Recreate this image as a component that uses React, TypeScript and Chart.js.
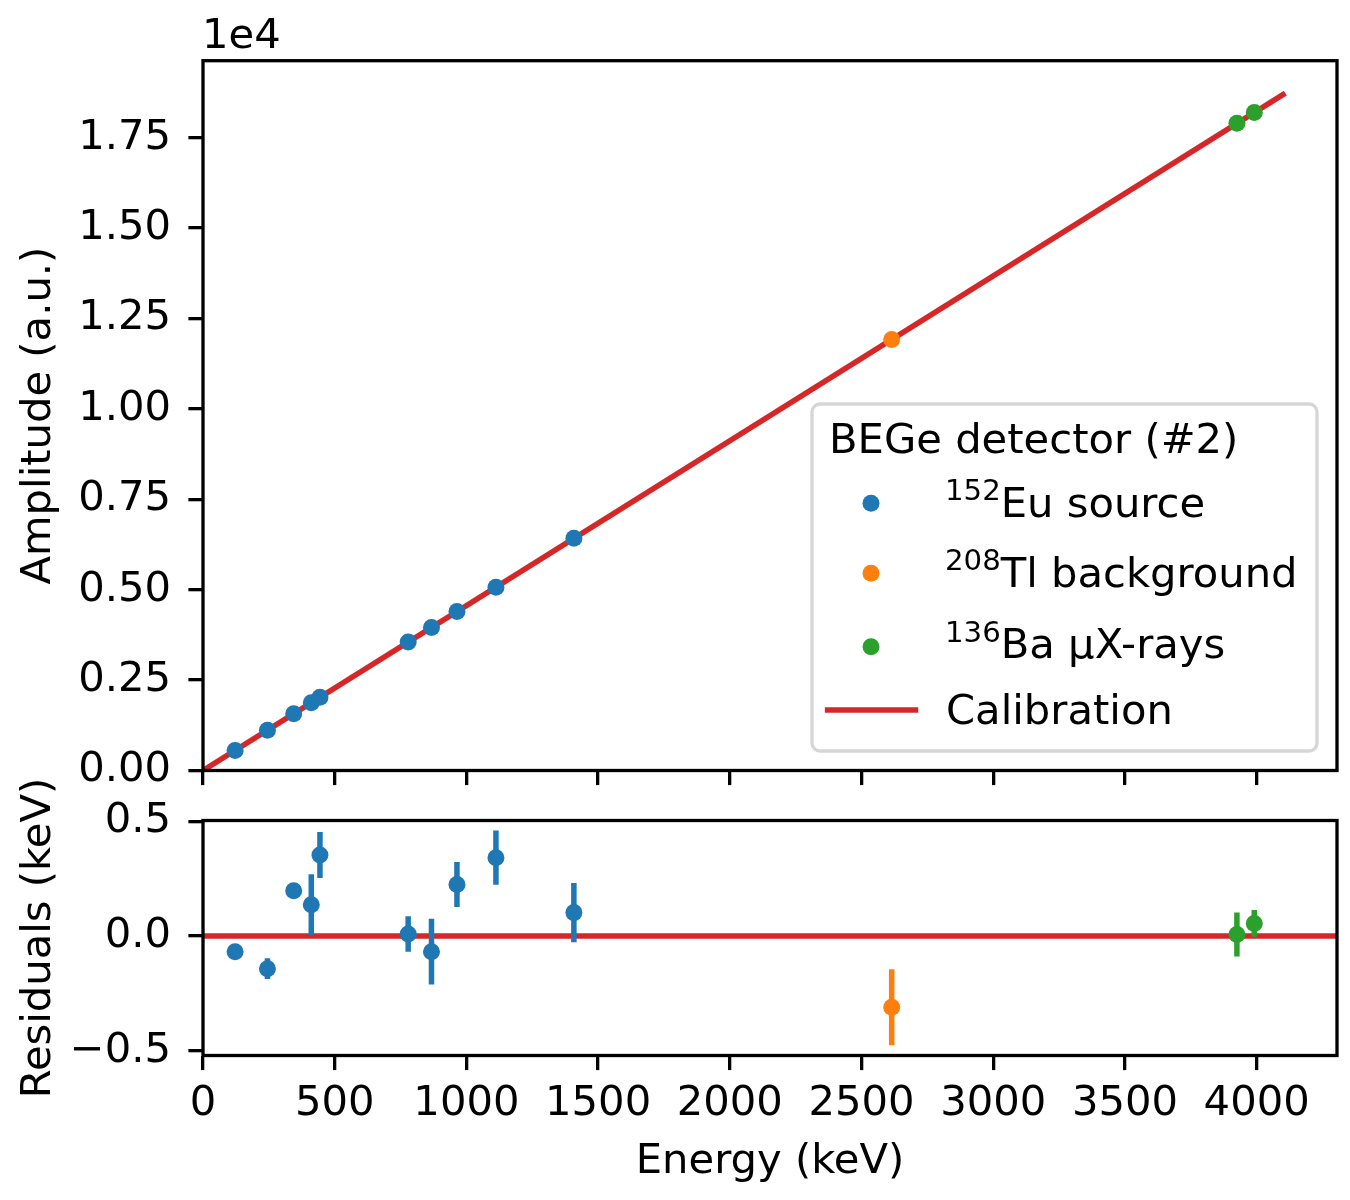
import { useEffect, useRef } from 'react';
import { Chart, registerables } from 'chart.js';

Chart.register(...registerables);

// measured points, 152Eu source
const euEnergy = [121.8, 244.7, 344.3, 411.1, 444.0, 778.9, 867.4, 964.1, 1112.1, 1408.0];
const euAmplitude = [555, 1116, 1570, 1875, 2025, 3552, 3955, 4396, 5071, 6420];
const euResidual = [-0.068, -0.142, 0.197, 0.136, 0.353, 0.009, -0.068, 0.224, 0.341, 0.102];
const euResidualErr = [0.02, 0.045, 0.03, 0.133, 0.1, 0.077, 0.143, 0.098, 0.118, 0.129];

// 208Tl background
const tlEnergy = [2614.5];
const tlAmplitude = [11922];
const tlResidual = [-0.31];
const tlResidualErr = [0.165];

// 136Ba muonic x-rays
const baEnergy = [3925, 3991];
const baAmplitude = [17898, 18199];
const baResidual = [0.007, 0.055];
const baResidualErr = [0.096, 0.058];

// calibration line and zero line
const calibEnergy = [0, 4100];
const calibAmplitude = [0, 18695];
const zeroEnergy = [0, 4305];
const zeroResidual = [0, 0];

// axes
const energyMax = 4305;
const amplitudeMax = 19630;
const residualMin = -0.52;
const residualMax = 0.503;
const energyTicks = [0, 500, 1000, 1500, 2000, 2500, 3000, 3500, 4000];
const energyTickLabels = ['0', '500', '1000', '1500', '2000', '2500', '3000', '3500', '4000'];
const amplitudeTicks = [0, 2500, 5000, 7500, 10000, 12500, 15000, 17500];
const amplitudeTickLabels = ['0.00', '0.25', '0.50', '0.75', '1.00', '1.25', '1.50', '1.75'];
const residualTicks = [-0.5, 0, 0.5];
const residualTickLabels = ['\u22120.5', '0.0', '0.5'];

const legendTitle = 'BEGe detector (#2)';
const legendIsotopes = ['152', '208', '136'];
const legendNames = ['Eu source', 'Tl background', 'Ba \u03bcX-rays', 'Calibration'];

const BLUE = '#1f77b4';
const ORANGE = '#ff7f0e';
const GREEN = '#2ca02c';
const RED = '#d62728';
const FONT = 'DejaVu Sans';
const FS = 41.7;
const AXW = 3.3;
const TICK = 14.6;

Chart.defaults.font.family = FONT;
Chart.defaults.font.size = FS;
Chart.defaults.color = '#000';

const pts = (xs: number[], ys: number[]) => xs.map((x, i) => ({ x, y: ys[i] }));

// fixed axis sizes, no extra padding asked from the layout
const fixSize = (size: number) => (s: any) => {
  if (s.isHorizontal()) s.height = size;
  else s.width = size;
  s.paddingTop = 0;
  s.paddingBottom = 0;
  s.paddingLeft = 0;
  s.paddingRight = 0;
};

const framePlugin = {
  id: 'frame',
  afterDatasetsDraw(chart: any) {
    const { ctx, chartArea: a } = chart;
    ctx.save();
    ctx.strokeStyle = '#000';
    ctx.lineWidth = AXW;
    ctx.strokeRect(a.left, a.top, a.right - a.left, a.bottom - a.top);
    ctx.restore();
  },
};

const tickGrid = {
  drawOnChartArea: false,
  drawTicks: true,
  tickLength: TICK,
  tickWidth: AXW,
  tickColor: '#000',
  color: '#000',
  lineWidth: AXW,
};

const xAxisBase = (height: number) => ({
  type: 'linear' as const,
  min: 0,
  max: energyMax,
  afterBuildTicks: (s: any) => {
    s.ticks = energyTicks.map((v) => ({ value: v }));
  },
  afterFit: fixSize(height),
  border: { display: false },
  grid: tickGrid,
});

function roundRectPath(ctx: CanvasRenderingContext2D, x: number, y: number, w: number, h: number, r: number) {
  ctx.beginPath();
  ctx.moveTo(x + r, y);
  ctx.arcTo(x + w, y, x + w, y + h, r);
  ctx.arcTo(x + w, y + h, x, y + h, r);
  ctx.arcTo(x, y + h, x, y, r);
  ctx.arcTo(x, y, x + w, y, r);
  ctx.closePath();
}

const legendPlugin = {
  id: 'fitLegend',
  afterDraw(chart: any) {
    const ctx: CanvasRenderingContext2D = chart.ctx;
    ctx.save();
    // offset text of the y axis
    ctx.fillStyle = '#000';
    ctx.font = `${FS}px "${FONT}"`;
    ctx.textBaseline = 'alphabetic';
    ctx.textAlign = 'left';
    ctx.fillText('1e4', 202, 48.3);

    roundRectPath(ctx, 812, 404, 505, 347, 8);
    ctx.fillStyle = 'rgba(255,255,255,0.8)';
    ctx.fill();
    ctx.strokeStyle = '#d6d6d6';
    ctx.lineWidth = AXW;
    ctx.stroke();

    ctx.fillStyle = '#000';
    ctx.fillText(legendTitle, 829, 453);

    const colors = [BLUE, ORANGE, GREEN];
    const markerY = [503.3, 573.3, 646.7];
    const mainY = [516.7, 586.7, 658.3];
    legendIsotopes.forEach((iso, i) => {
      ctx.beginPath();
      ctx.arc(871, markerY[i], 8.5, 0, Math.PI * 2);
      ctx.fillStyle = colors[i];
      ctx.fill();
      ctx.fillStyle = '#000';
      ctx.font = `29.2px "${FONT}"`;
      ctx.fillText(iso, 945, mainY[i] - 16.7);
      const w = ctx.measureText(iso).width;
      ctx.font = `${FS}px "${FONT}"`;
      ctx.fillText(legendNames[i], 945 + w, mainY[i]);
    });

    ctx.beginPath();
    ctx.moveTo(827.6, 710);
    ctx.lineTo(915.5, 710);
    ctx.strokeStyle = RED;
    ctx.lineWidth = 5.5;
    ctx.lineCap = 'square';
    ctx.stroke();
    ctx.fillStyle = '#000';
    ctx.font = `${FS}px "${FONT}"`;
    ctx.fillText(legendNames[3], 946, 724.3);
    ctx.restore();
  },
};

const errorSets = [
  { x: euEnergy, y: euResidual, e: euResidualErr, color: BLUE },
  { x: tlEnergy, y: tlResidual, e: tlResidualErr, color: ORANGE },
  { x: baEnergy, y: baResidual, e: baResidualErr, color: GREEN },
];

const errorBarPlugin = {
  id: 'errorBars',
  afterDatasetsDraw(chart: any) {
    const { ctx, chartArea: a, scales } = chart;
    ctx.save();
    ctx.beginPath();
    ctx.rect(a.left, a.top, a.right - a.left, a.bottom - a.top);
    ctx.clip();
    ctx.lineWidth = 5.5;
    errorSets.forEach((set) => {
      ctx.strokeStyle = set.color;
      set.x.forEach((xv, i) => {
        const px = scales.x.getPixelForValue(xv);
        ctx.beginPath();
        ctx.moveTo(px, scales.y.getPixelForValue(set.y[i] - set.e[i]));
        ctx.lineTo(px, scales.y.getPixelForValue(set.y[i] + set.e[i]));
        ctx.stroke();
      });
    });
    // markers on top of the bars
    errorSets.forEach((set) => {
      ctx.fillStyle = set.color;
      set.x.forEach((xv, i) => {
        ctx.beginPath();
        ctx.arc(scales.x.getPixelForValue(xv), scales.y.getPixelForValue(set.y[i]), 8.5, 0, Math.PI * 2);
        ctx.fill();
      });
    });
    ctx.restore();
  },
};

const scatterSet = (label: string, data: any[], color: string) => ({
  label,
  data,
  backgroundColor: color,
  borderColor: color,
  pointRadius: 8.5,
  pointBorderWidth: 0,
  showLine: false,
  order: 1,
});

export default function App() {
  const topRef = useRef<HTMLCanvasElement>(null);
  const bottomRef = useRef<HTMLCanvasElement>(null);

  useEffect(() => {
    if (!topRef.current || !bottomRef.current) return;

    const top = new Chart(topRef.current, {
      type: 'scatter',
      data: {
        datasets: [
          scatterSet('152Eu source', pts(euEnergy, euAmplitude), BLUE),
          scatterSet('208Tl background', pts(tlEnergy, tlAmplitude), ORANGE),
          scatterSet('136Ba \u03bcX-rays', pts(baEnergy, baAmplitude), GREEN),
          {
            label: 'Calibration',
            data: pts(calibEnergy, calibAmplitude),
            showLine: true,
            borderColor: RED,
            backgroundColor: RED,
            borderWidth: 5.5,
            borderCapStyle: 'square',
            pointRadius: 0,
            order: 2,
          } as any,
        ],
      },
      options: {
        responsive: false,
        animation: false,
        events: [],
        layout: { padding: { left: 0, right: 13, top: 60.7, bottom: 9.5 } },
        plugins: { legend: { display: false }, tooltip: { enabled: false } },
        scales: {
          x: { ...xAxisBase(20), ticks: { display: false } },
          y: {
            type: 'linear',
            min: 0,
            max: amplitudeMax,
            afterBuildTicks: (s: any) => {
              s.ticks = amplitudeTicks.map((v) => ({ value: v }));
            },
            afterFit: fixSize(203),
            border: { display: false },
            grid: tickGrid,
            ticks: {
              padding: 17.3,
              callback: (v: any) => amplitudeTickLabels[amplitudeTicks.indexOf(Number(v))],
            },
            title: { display: true, text: 'Amplitude (a.u.)', padding: { top: 13.9, bottom: 0 } },
          },
        },
      },
      plugins: [framePlugin, legendPlugin],
    });

    const bottom = new Chart(bottomRef.current, {
      type: 'scatter',
      data: {
        datasets: [
          {
            label: 'zero',
            data: pts(zeroEnergy, zeroResidual),
            showLine: true,
            borderColor: RED,
            borderWidth: 5.5,
            pointRadius: 0,
            order: 2,
          } as any,
        ],
      },
      options: {
        responsive: false,
        animation: false,
        events: [],
        layout: { padding: { left: 0, right: 13, top: 60.5, bottom: 0 } },
        plugins: { legend: { display: false }, tooltip: { enabled: false } },
        scales: {
          x: {
            ...xAxisBase(144.5),
            ticks: {
              padding: 8.8,
              autoSkip: false,
              maxRotation: 0,
              callback: (v: any) => energyTickLabels[energyTicks.indexOf(Number(v))],
            },
            title: { display: true, text: 'Energy (keV)', padding: { top: 0, bottom: 12.7 } },
          },
          y: {
            type: 'linear',
            min: residualMin,
            max: residualMax,
            afterBuildTicks: (s: any) => {
              s.ticks = residualTicks.map((v) => ({ value: v }));
            },
            afterFit: fixSize(203),
            border: { display: false },
            grid: tickGrid,
            ticks: {
              padding: 17.3,
              callback: (v: any) => residualTickLabels[residualTicks.indexOf(Number(v))],
            },
            title: { display: true, text: 'Residuals (keV)', padding: { top: 13.9, bottom: 0 } },
          },
        },
      },
      plugins: [errorBarPlugin, framePlugin],
    });

    return () => {
      top.destroy();
      bottom.destroy();
    };
  }, []);

  return (
    <div style={{ position: 'absolute', left: 0, top: 0, width: 1350, height: 1200, background: '#fff' }}>
      <canvas
        ref={topRef}
        width={1350}
        height={800}
        style={{ position: 'absolute', left: 0, top: 0, width: 1350, height: 800 }}
      />
      <canvas
        ref={bottomRef}
        width={1350}
        height={440}
        style={{ position: 'absolute', left: 0, top: 760, width: 1350, height: 440 }}
      />
    </div>
  );
}
